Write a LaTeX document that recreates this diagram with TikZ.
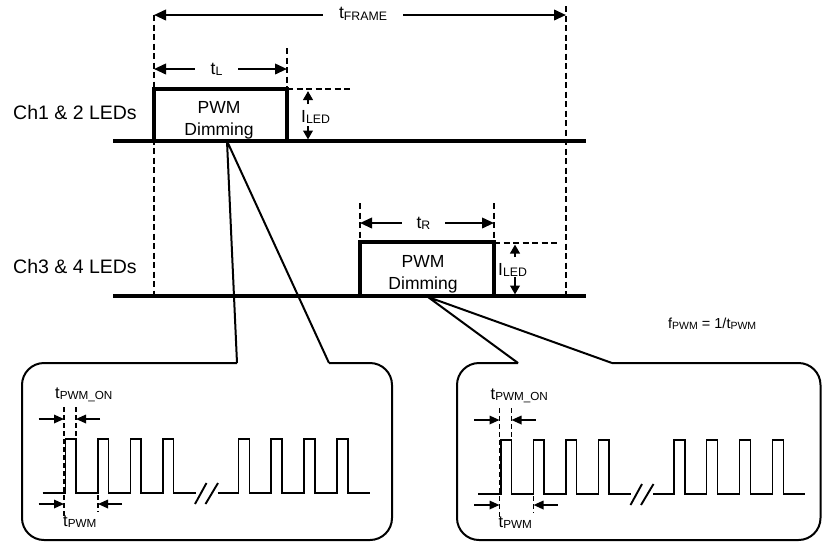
\documentclass[tikz,border=0pt]{standalone}
\usepackage{fontspec}
\setmainfont{Liberation Sans}
\usetikzlibrary{arrows.meta}
\newcommand\sbs[2][12.3]{\raisebox{-1.5pt}{\fontsize{#1}{#1}\selectfont #2}}
\newcommand\pwmwave[1]{%
  \draw[wave] (-23,0) foreach \r in {0,32.5,65,97.5}{ -- (\r,0) -- (\r,-54) -- ({\r+10.5},-54) -- ({\r+10.5},0)} -- (130,0);
  \draw[wave] (152,0) foreach \r in {173,205.5,238.5,271.5}{ -- (\r,0) -- (\r,-54) -- ({\r+11},-54) -- ({\r+11},0)} -- (304,0);
  \draw[wave] (129.5,11) -- (141,-10);
  \draw[wave] (140,11) -- (152.5,-10);
  \coordinate (#1a) at (-1.5,-86);
  \coordinate (#1b) at (-1.5,24);
  \coordinate (#1c) at (10.5,-86);
  \coordinate (#1d) at (10.5,-54);
  \coordinate (#1e) at (32.5,2);
  \coordinate (#1f) at (32.5,19);
  \draw[thinguide] (#1a) -- (#1b);
  \draw[thinguide] (#1c) -- (#1d);
  \draw[thinguide] (#1e) -- (#1f);
  \draw[smallarr] (-27,-74) -- (-1.5,-74);
  \draw[smallarr] (34.5,-74) -- (10.5,-74);
  \draw[smallarr] (-27,11) -- (-1.5,11);
  \draw[smallarr] (56.5,11) -- (32.5,11);
  \node[ctxt, anchor=base west] (#1on) at (-10.5,-95) {t\sbs[11.7]{PWM\_ON}};
  \node[ctxt, anchor=base west] (#1per) at (-2.5,33) {t\sbs[11.7]{PWM}};
}
\begin{document}
\begin{tikzpicture}[x=1pt,y=-1pt,
  sig/.style={line width=3.2pt, line join=miter},
  guide/.style={line width=2pt, dash pattern=on 6pt off 3.5pt},
  thinguide/.style={line width=1.7pt, dash pattern=on 5pt off 3pt},
  dimarr/.style={line width=2.2pt, -{Triangle[length=12pt,width=10.5pt]}},
  iarr/.style={line width=2.2pt, -{Triangle[length=9pt,width=9.5pt]}},
  smallarr/.style={line width=1.7pt, -{Triangle[length=10pt,width=8.5pt]}},
  wave/.style={line width=1.9pt, line join=miter},
  callout/.style={line width=2pt, line join=round},
  txt/.style={inner sep=0pt, font=\fontsize{17.5}{21}\selectfont},
  chtxt/.style={inner sep=0pt, font=\fontsize{19.5}{23}\selectfont},
  ctxt/.style={inner sep=0pt, font=\fontsize{16.5}{20}\selectfont},
]
\useasboundingbox (0,0) rectangle (822,542);

% frame
\coordinate (fl) at (154,15);
\coordinate (fr) at (566,15);
\coordinate (flb) at (154,298);
\coordinate (frt) at (566,6);
\coordinate (frb) at (566,296);
\node[txt, minimum width=80pt, anchor=base] (tframe) at (363,18.5) {t\sbs{FRAME}};
\draw[dimarr] (tframe.west |- fl) -- (fl);
\draw[dimarr] (tframe.east |- fr) -- (fr);
\draw[guide] (fl) -- (flb);
\draw[guide] (frt) -- (frb);

% channel 1/2
\node[chtxt, anchor=base west] (ch1) at (13,119) {Ch1 \& 2 LEDs};
\draw[sig] (113,141) -- (586,141);
\draw[sig] (154,141) -- (154,89) -- (287,89) -- (287,141);
\draw[guide] (287,48) -- (287,89);
\draw[guide] (287,89) -- (350,89);
\coordinate (tLl) at (154,69);
\coordinate (tLr) at (287,69);
\node[txt, minimum width=43pt, anchor=base] (tL) at (216.5,74) {t\sbs{L}};
\draw[dimarr] (tL.west |- tLl) -- (tLl);
\draw[dimarr] (tL.east |- tLr) -- (tLr);
\node[txt, anchor=base] (pwm1) at (219,113) {PWM};
\node[txt, anchor=base] (dim1) at (219,135) {Dimming};
\node[txt, anchor=base west] (iled1) at (301,122) {I\sbs{LED}};
\draw[iarr] (308,104) -- (308,91);
\draw[iarr] (308,126) -- (308,139.5);

% channel 3/4
\node[chtxt, anchor=base west] (ch3) at (13,273) {Ch3 \& 4 LEDs};
\draw[sig] (113,296) -- (586,296);
\draw[sig] (360,296) -- (360,242) -- (494,242) -- (494,296);
\draw[guide] (360,203) -- (360,242);
\draw[guide] (494,203) -- (494,242);
\draw[guide] (494,243) -- (557,243);
\coordinate (tRl) at (360,223);
\coordinate (tRr) at (494,223);
\node[txt, minimum width=43pt, anchor=base] (tR) at (423.5,228) {t\sbs{R}};
\draw[dimarr] (tR.west |- tRl) -- (tRl);
\draw[dimarr] (tR.east |- tRr) -- (tRr);
\node[txt, anchor=base] (pwm2) at (423,267) {PWM};
\node[txt, anchor=base] (dim2) at (423,289) {Dimming};
\node[txt, anchor=base west] (iled2) at (498,275) {I\sbs{LED}};
\draw[iarr] (515,257) -- (515,244.5);
\draw[iarr] (515,277) -- (515,294.5);

% formula
\node[inner sep=0pt, anchor=base west, font=\fontsize{14.5}{17}\selectfont] (fpwm) at (668,328) {f\sbs[10.5]{PWM} = 1/t\sbs[10.5]{PWM}};

% callout 1
\coordinate (ap1) at (227,141);
\coordinate (c1l) at (237,363);
\coordinate (c1r) at (329,363);
\draw[callout, rounded corners=22pt] (c1r) -- (392,363) -- (392,540) -- (22,540) -- (22,363) -- (c1l);
\draw[callout] (c1l) -- (ap1) -- (c1r);
\begin{scope}[shift={(65.5,493)}]
\pwmwave{w1}
\end{scope}

% callout 2
\coordinate (ap2) at (428,297);
\coordinate (c2l) at (518,363);
\coordinate (c2r) at (612,363);
\draw[callout, rounded corners=22pt] (c2r) -- (820.5,363) -- (820.5,540) -- (457,540) -- (457,363) -- (c2l);
\draw[callout] (c2l) -- (ap2) -- (c2r);
\begin{scope}[shift={(501,494)}]
\pwmwave{w2}
\end{scope}
\end{tikzpicture}
\end{document}
